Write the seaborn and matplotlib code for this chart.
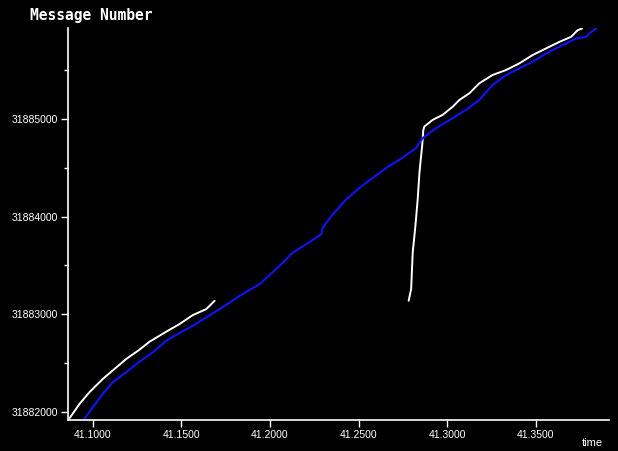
import numpy as np
import pandas as pd
import matplotlib
matplotlib.use("Agg")
import matplotlib.pyplot as plt
import seaborn as sns
from matplotlib.ticker import FormatStrFormatter, MultipleLocator

# white trace, before the gap
white_t1 = [41.0869, 41.0925, 41.0981, 41.1056, 41.1122, 41.1188, 41.1263,
            41.1320, 41.1414, 41.1489, 41.1564, 41.1640, 41.1687]
white_n1 = [31881939, 31882085, 31882204, 31882339, 31882441, 31882543, 31882638,
            31882720, 31882822, 31882900, 31882992, 31883053, 31883138]

# white trace, after the gap (steep jump then normal slope)
white_t2 = [41.2783, 41.2797, 41.2806, 41.2821, 41.2834, 41.2844, 41.2853,
            41.2859, 41.2866, 41.2872, 41.2919, 41.2975, 41.3032, 41.3070,
            41.3126, 41.3182, 41.3257, 41.3333, 41.3408, 41.3483, 41.3559,
            41.3634, 41.3700, 41.3737, 41.3762]
white_n2 = [31883138, 31883257, 31883634, 31883902, 31884175, 31884450, 31884616,
            31884718, 31884888, 31884922, 31884990, 31885041, 31885125, 31885194,
            31885262, 31885364, 31885449, 31885500, 31885568, 31885653, 31885721,
            31885788, 31885839, 31885907, 31885924]

# blue trace
blue_t = [41.0953, 41.1000, 41.1056, 41.1113, 41.1188, 41.1263, 41.1339, 41.1414,
          41.1489, 41.1564, 41.1640, 41.1715, 41.1828, 41.1941, 41.2053, 41.2129,
          41.2204, 41.2289, 41.2298, 41.2354, 41.2430, 41.2505, 41.2580, 41.2656,
          41.2731, 41.2825, 41.2862, 41.2938, 41.3032, 41.3107, 41.3182, 41.3257,
          41.3333, 41.3408, 41.3483, 41.3559, 41.3634, 41.3728, 41.3785, 41.3803,
          41.3841]
blue_n = [31881932, 31882051, 31882187, 31882306, 31882408, 31882516, 31882612,
          31882730, 31882808, 31882883, 31882968, 31883053, 31883189, 31883308,
          31883494, 31883631, 31883716, 31883818, 31883886, 31884022, 31884175,
          31884294, 31884396, 31884497, 31884582, 31884701, 31884803, 31884905,
          31885007, 31885092, 31885194, 31885347, 31885449, 31885517, 31885584,
          31885670, 31885737, 31885823, 31885839, 31885873, 31885924]

sns.set_theme(style="dark", rc={
    "figure.facecolor": "black", "axes.facecolor": "black",
    "axes.edgecolor": "white", "text.color": "white",
    "xtick.color": "white", "ytick.color": "white",
    "axes.grid": False,
})
plt.rcParams['font.family'] = ['Liberation Sans', 'DejaVu Sans']

fig = plt.figure(figsize=(6.18, 4.51), dpi=100)
ax = fig.add_axes([0.110, 0.0687, 0.875, 0.869])

w1 = pd.DataFrame({"time": white_t1, "msg": white_n1})
w2 = pd.DataFrame({"time": white_t2, "msg": white_n2})
bl = pd.DataFrame({"time": blue_t, "msg": blue_n})

sns.lineplot(data=w1, x="time", y="msg", color="white", lw=1.4, sort=False,
             estimator=None, ax=ax)
sns.lineplot(data=w2, x="time", y="msg", color="white", lw=1.4, sort=False,
             estimator=None, ax=ax)
sns.lineplot(data=bl, x="time", y="msg", color="#0a14ff", lw=1.5, sort=False,
             estimator=None, ax=ax)

ax.set_xlim(41.0859, 41.3913)
ax.set_ylim(31881918, 31885929)

for s in ["top", "right"]:
    ax.spines[s].set_visible(False)
for s in ["left", "bottom"]:
    ax.spines[s].set_color("white")
    ax.spines[s].set_linewidth(1.2)

ax.xaxis.set_major_locator(MultipleLocator(0.05))
ax.xaxis.set_major_formatter(FormatStrFormatter("%.4f"))
ax.yaxis.set_major_locator(MultipleLocator(1000))
ax.yaxis.set_minor_locator(MultipleLocator(500))
ax.yaxis.set_major_formatter(FormatStrFormatter("%d"))
ax.tick_params(axis="both", which="major", labelsize=7.5, length=5, width=1,
               direction="out", pad=2, bottom=True, left=True)
ax.tick_params(axis="y", which="minor", length=3, width=1, left=True)

ax.set_xlabel("")
ax.set_ylabel("")
fig.text(0.049, 0.965, "Message Number", fontsize=10.5, fontweight="bold",
         family="DejaVu Sans Mono", color="white", va="center")
fig.text(0.975, 0.018, "time", fontsize=8, color="white", ha="right", va="center")

fig.savefig("out.png", dpi=100, facecolor="black")
